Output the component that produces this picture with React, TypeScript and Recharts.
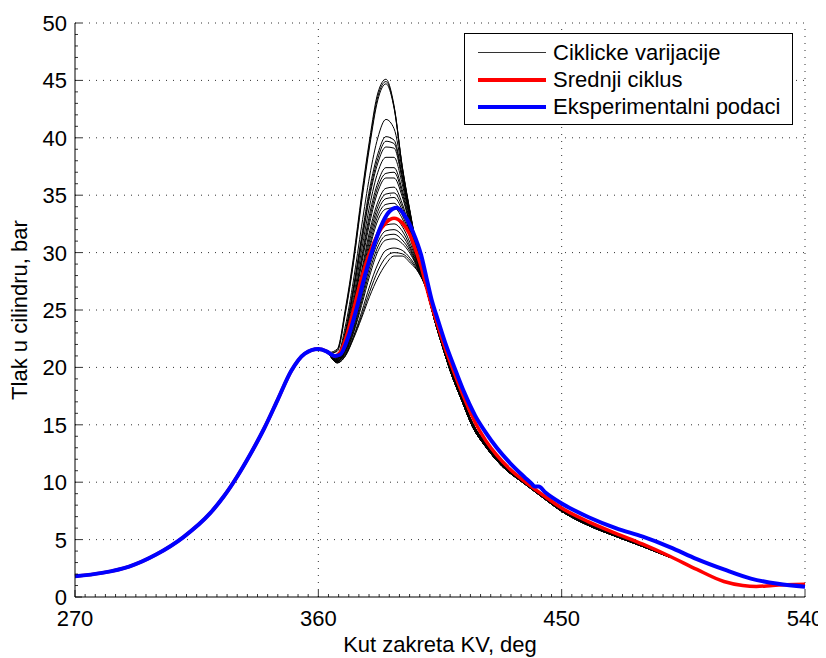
import React from 'react';
// npm
import { LineChart, Line, XAxis, YAxis, ReferenceLine } from 'recharts';

// zajednicki dio svih krivulja (kompresija)
const prefixDeg = [270, 280, 290, 300, 310, 320, 325, 330, 335, 340, 345, 350, 355, 360, 363];
const prefixBar = [1.8, 2.1, 2.65, 3.7, 5.2, 7.3, 8.75, 10.5, 12.5, 14.7, 17.2, 19.7, 21.2, 21.6, 21.4];

// ciklicke varijacije - podrucje izgaranja
const peakDeg = [364, 367, 370, 373, 376, 379, 382, 385, 388, 391, 394, 397, 400];
const ciklus01 = [21.3, 21.6, 25.1, 29.6, 35.0, 39.9, 43.9, 45.1, 42.8, 37.6, 33.5, 29.8, 26.8];
const ciklus02 = [21.2, 21.4, 24.7, 29.1, 34.4, 39.3, 43.3, 44.7, 42.6, 37.5, 33.4, 29.7, 26.8];
const ciklus03 = [21.2, 21.1, 23.6, 27.6, 32.3, 36.7, 40.0, 41.6, 40.8, 37.2, 33.3, 29.7, 26.8];
const ciklus04 = [21.2, 21.0, 23.2, 27.0, 31.4, 35.6, 38.6, 40.1, 39.8, 36.8, 33.1, 29.6, 26.8];
const ciklus05 = [21.2, 20.9, 22.9, 26.6, 30.8, 34.9, 37.8, 39.2, 39.1, 36.4, 32.9, 29.5, 26.8];
const ciklus06 = [21.2, 20.9, 22.7, 26.1, 30.2, 34.1, 37.0, 38.3, 38.3, 36.0, 32.7, 29.4, 26.8];
const ciklus07 = [21.2, 20.8, 22.5, 25.7, 29.6, 33.4, 36.1, 37.4, 37.4, 35.5, 32.5, 29.3, 26.8];
const ciklus08 = [21.2, 20.8, 22.3, 25.3, 29.0, 32.6, 35.3, 36.5, 36.5, 34.9, 32.2, 29.2, 26.8];
const ciklus09 = [21.1, 20.7, 22.1, 24.9, 28.4, 31.9, 34.4, 35.6, 35.7, 34.3, 31.9, 29.1, 26.8];
const ciklus10 = [21.1, 20.7, 21.9, 24.5, 27.8, 31.1, 33.6, 34.7, 34.8, 33.7, 31.6, 29.0, 26.8];
const ciklus11 = [21.1, 20.6, 21.7, 24.1, 27.3, 30.4, 32.8, 33.8, 33.9, 33.0, 31.2, 28.9, 26.8];
const ciklus12 = [21.1, 20.6, 21.5, 23.7, 26.7, 29.7, 31.9, 32.9, 33.0, 32.3, 30.8, 28.8, 26.8];
const ciklus13 = [21.1, 20.5, 21.4, 23.3, 26.0, 28.8, 30.9, 31.9, 32.0, 31.5, 30.3, 28.6, 26.8];
const ciklus14 = [21.1, 20.5, 21.2, 23.0, 25.4, 28.0, 30.1, 31.1, 31.2, 30.8, 29.9, 28.5, 26.8];
const ciklus15 = [21.1, 20.4, 21.1, 22.7, 24.8, 27.1, 29.0, 30.2, 30.4, 30.2, 29.5, 28.4, 26.8];
const ciklus16 = [21.1, 20.4, 21.0, 22.5, 24.3, 26.2, 27.8, 29.0, 29.7, 29.7, 29.1, 28.3, 26.8];
const ciklus17 = [21.2, 21.5, 24.9, 29.3, 34.7, 39.6, 43.6, 44.9, 42.7, 37.5, 33.4, 29.8, 26.8];
const ciklus18 = [21.2, 21.0, 23.0, 26.8, 31.1, 35.2, 38.2, 39.7, 39.5, 36.6, 33.0, 29.6, 26.8];
const ciklus19 = [21.2, 20.8, 22.4, 25.5, 29.3, 33.0, 35.7, 36.9, 37.0, 35.2, 32.3, 29.2, 26.8];
const ciklus20 = [21.1, 20.7, 22.0, 24.7, 28.1, 31.5, 34.0, 35.1, 35.2, 34.0, 31.7, 29.0, 26.8];
const ciklus21 = [21.1, 20.6, 21.8, 24.3, 27.5, 30.7, 33.2, 34.2, 34.3, 33.3, 31.4, 28.9, 26.8];
const ciklus22 = [21.1, 20.5, 21.5, 23.5, 26.3, 29.2, 31.4, 32.4, 32.5, 31.9, 30.5, 28.7, 26.8];
const ciklus23 = [21.1, 20.5, 21.3, 23.1, 25.7, 28.4, 30.5, 31.5, 31.6, 31.1, 30.1, 28.5, 26.8];
const ciklus24 = [21.1, 20.4, 21.0, 22.6, 24.5, 26.6, 28.4, 29.6, 30.0, 29.9, 29.3, 28.3, 26.8];
const cikliSvi = [
  ciklus01, ciklus02, ciklus03, ciklus04, ciklus05, ciklus06, ciklus07, ciklus08,
  ciklus09, ciklus10, ciklus11, ciklus12, ciklus13, ciklus14, ciklus15, ciklus16,
  ciklus17, ciklus18, ciklus19, ciklus20, ciklus21, ciklus22, ciklus23, ciklus24,
];

// ekspanzija ciklickih varijacija (tri grupe ciklusa)
const tailDeg = [403, 406, 409, 413, 417, 422, 428, 436, 443, 450, 460, 470, 480, 490];
const tailBarA = [24.2, 21.9, 19.7, 17.3, 15.0, 13.2, 11.5, 10.0, 8.75, 7.55, 6.3, 5.35, 4.45, 3.5];
const tailBarB = [24.1, 21.75, 19.55, 17.15, 14.85, 13.05, 11.38, 9.9, 8.66, 7.46, 6.22, 5.28, 4.39, 3.46];
const tailBarC = [24.3, 22.05, 19.85, 17.45, 15.15, 13.35, 11.62, 10.1, 8.84, 7.64, 6.38, 5.42, 4.51, 3.54];
const tailovi = [tailBarA, tailBarB, tailBarC];

// srednji ciklus
const srednjiDeg = [366, 368, 371, 373, 376, 379, 382, 385, 388, 391, 394, 396, 398, 400, 402, 404, 407, 410, 414, 418, 422, 426, 431, 437, 443, 450, 460, 470, 480, 490, 500, 510, 517, 522, 528, 540];
const srednjiBar = [21.0, 21.3, 23.2, 25.0, 27.8, 30.0, 31.6, 32.6, 33.0, 32.6, 31.5, 30.2, 28.8, 27.0, 25.3, 23.8, 21.6, 19.7, 17.3, 15.2, 13.6, 12.35, 11.1, 9.95, 8.9, 7.75, 6.55, 5.55, 4.6, 3.55, 2.4, 1.35, 1.0, 0.92, 1.0, 1.1];

// eksperimentalni podaci
const eksperDeg = [366, 368, 371, 374, 377, 380, 383, 386, 389, 392, 395, 398, 400, 402, 404, 407, 410, 414, 418, 422, 426, 431, 436, 439, 440, 441.5, 444, 450, 460, 470, 480, 490, 500, 510, 520, 530, 540];
const eksperBar = [21.0, 21.1, 22.6, 25.0, 27.8, 30.2, 32.2, 33.5, 33.9, 33.2, 31.8, 29.8, 27.8, 25.8, 24.3, 22.1, 20.2, 17.8, 15.8, 14.3, 13.0, 11.65, 10.5, 9.85, 9.62, 9.62, 9.1, 8.15, 6.95, 6.0, 5.25, 4.35, 3.3, 2.4, 1.6, 1.15, 0.9];

// osi
const xMajor = [270, 360, 450, 540];
const yMajor = [0, 5, 10, 15, 20, 25, 30, 35, 40, 45, 50];
const xMinorStep = 3.75;
const yMinorStep = 1;

const FONT = 'Arial, "Liberation Sans", Helvetica, sans-serif';
const W = 818;
const H = 650;

const toPoints = (deg: number[], bar: number[]) => deg.map((x, i) => ({ x, y: bar[i] }));

const blackSeries = cikliSvi.map((c, i) => [
  ...toPoints(prefixDeg, prefixBar),
  ...toPoints(peakDeg, c),
  ...toPoints(tailDeg, tailovi[i % 3]),
]);
const redSeries = [...toPoints(prefixDeg, prefixBar), ...toPoints(srednjiDeg, srednjiBar)];
const blueSeries = [...toPoints(prefixDeg, prefixBar), ...toPoints(eksperDeg, eksperBar)];

const xTicks: number[] = [];
for (let v = 270; v <= 540; v += xMinorStep) xTicks.push(v);
const yTicks: number[] = [];
for (let v = 0; v <= 50; v += yMinorStep) yTicks.push(v);

const XTick = (props: any) => {
  const { x, y, payload } = props;
  const major = xMajor.includes(payload.value);
  return (
    <g>
      <line x1={x} x2={x} y1={y} y2={y - (major ? 7 : 3)} stroke="#000" strokeWidth={0.8} />
      {major && (
        <text x={x} y={y + 29} textAnchor="middle" fontSize={22} fontFamily={FONT} fill="#000">
          {payload.value}
        </text>
      )}
    </g>
  );
};

const YTick = (props: any) => {
  const { x, y, payload } = props;
  const major = yMajor.includes(payload.value);
  return (
    <g>
      <line x1={x} x2={x + (major ? 7 : 3)} y1={y} y2={y} stroke="#000" strokeWidth={0.8} />
      {major && (
        <text x={x - 8} y={y} dy="0.36em" textAnchor="end" fontSize={22} fontFamily={FONT} fill="#000">
          {payload.value}
        </text>
      )}
    </g>
  );
};

const legendItems = [
  { label: 'Ciklicke varijacije', color: '#333', h: 1 },
  { label: 'Srednji ciklus', color: '#ff0000', h: 4 },
  { label: 'Eksperimentalni podaci', color: '#0000ff', h: 4 },
];

const App = () => {
  return (
    <div style={{ position: 'relative', width: W, height: H, fontFamily: FONT }}>
      <LineChart width={W} height={H} margin={{ top: 15, right: 21, left: 7, bottom: 0 }}>
        <XAxis
          dataKey="x"
          type="number"
          domain={[270, 540]}
          ticks={xTicks}
          interval={0}
          tickSize={0}
          tickMargin={0}
          tick={<XTick />}
          height={61}
          axisLine={{ stroke: '#000' }}
          allowDuplicatedCategory={false}
          label={{ value: 'Kut zakreta KV, deg', position: 'insideBottom', offset: 6, fontSize: 22, fill: '#000', fontFamily: FONT }}
        />
        <YAxis
          type="number"
          domain={[0, 50]}
          ticks={yTicks}
          interval={0}
          tickSize={0}
          tickMargin={0}
          tick={<YTick />}
          width={60}
          axisLine={{ stroke: '#000' }}
          label={{
            value: 'Tlak u cilindru, bar',
            angle: -90,
            position: 'insideLeft',
            offset: 4,
            fontSize: 22,
            fill: '#000',
            fontFamily: FONT,
            style: { textAnchor: 'middle' },
          }}
        />
        {yMajor.filter((v) => v > 0).map((v) => (
          <ReferenceLine key={'gy' + v} y={v} stroke="#333" strokeWidth={1} strokeDasharray="1 6" />
        ))}
        {xMajor.filter((v) => v > 270).map((v) => (
          <ReferenceLine key={'gx' + v} x={v} stroke="#333" strokeWidth={1} strokeDasharray="1 6" />
        ))}
        {blackSeries.map((d, i) => (
          <Line
            key={'c' + i}
            data={d}
            dataKey="y"
            type="monotone"
            stroke="#000"
            strokeWidth={1}
            dot={false}
            activeDot={false}
            isAnimationActive={false}
          />
        ))}
        <Line data={redSeries} dataKey="y" type="monotone" stroke="#ff0000" strokeWidth={3.5} dot={false} activeDot={false} isAnimationActive={false} />
        <Line data={blueSeries} dataKey="y" type="monotone" stroke="#0000ff" strokeWidth={4} dot={false} activeDot={false} isAnimationActive={false} />
      </LineChart>
      <div
        style={{
          position: 'absolute',
          left: 456,
          top: 25,
          width: 329,
          height: 92,
          border: '1px solid #000',
          background: '#fff',
          boxSizing: 'border-box',
          paddingTop: 5,
        }}
      >
        {legendItems.map((item) => (
          <div key={item.label} style={{ display: 'flex', alignItems: 'center', height: 27 }}>
            <div style={{ marginLeft: 13, width: 68, height: item.h, background: item.color }} />
            <span style={{ marginLeft: 7, fontSize: 22, lineHeight: '27px', color: '#000' }}>{item.label}</span>
          </div>
        ))}
      </div>
    </div>
  );
};

export default App;
